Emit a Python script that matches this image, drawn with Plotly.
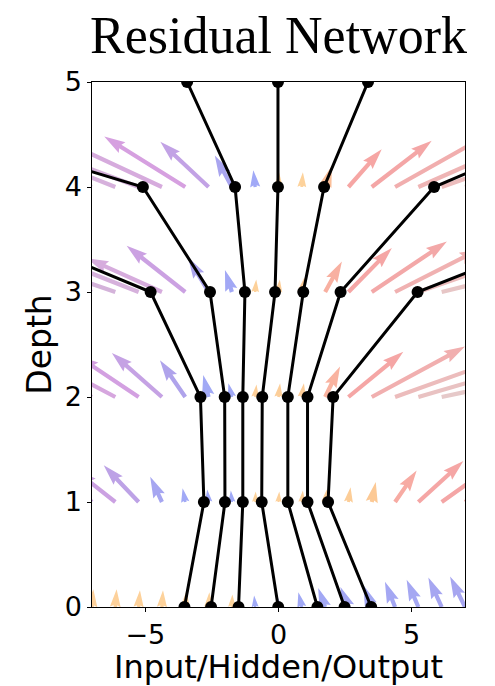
import math
import plotly.graph_objects as go

# ---------------- data ----------------
depth_levels = [0, 1, 2, 3, 4, 5]
traj_1 = [-3.53, -2.80, -2.93, -4.80, -14.3, None]
traj_2 = [-2.53, -2.01, -2.02, -2.57, -5.09, -18.2]
traj_3 = [-1.50, -1.34, -1.34, -1.26, -1.63, -3.43]
traj_4 = [-0.01, -0.63, -0.61, -0.13, -0.02, -0.02]
traj_5 = [1.46, 0.35, 0.35, 0.93, 1.71, 3.36]
traj_6 = [2.48, 1.09, 1.09, 2.33, 5.84, 15.2]
traj_7 = [3.48, 1.86, 2.05, 5.22, 15.2, None]

grid_x = [-7.0, -6.125, -5.25, -4.375, -3.5, -2.625, -1.75, -0.875, 0.0,
          0.875, 1.75, 2.625, 3.5, 4.375, 5.25, 6.125, 7.0]
arrow_depths = [0, 1, 2, 3, 4]

# horizontal / vertical components of each arrow, one list per depth
arrow_u_d0 = [0.05, 0.05, 0.05, 0.04, 0.04, 0.03, 0.02, -0.04, -0.06,
              -0.13, -0.26, -0.30, -0.32, -0.38, -0.44, -0.50, -0.56]
arrow_v_d0 = [0.17, 0.17, 0.16, 0.16, 0.15, 0.14, 0.12, 0.11, 0.11,
              0.14, 0.18, 0.19, 0.21, 0.24, 0.26, 0.28, 0.29]
arrow_u_d1 = [-1.8, -1.5, -1.31, -0.44, -0.10, -0.05, -0.04, 0.02, 0.03,
              0.04, 0.06, 0.08, 0.15, 0.81, 1.69, 2.2, 2.5]
arrow_v_d1 = [0.36, 0.30, 0.35, 0.24, 0.13, 0.12, 0.11, 0.10, 0.10,
              0.11, 0.12, 0.14, 0.19, 0.30, 0.39, 0.40, 0.42]
arrow_u_d2 = [-2.8, -2.6, -2.3, -1.88, -0.95, -0.20, -0.13, 0.05, 0.06,
              0.08, 0.56, 2.06, 3.5, 4.5, 5.0, 5.5, 6.0]
arrow_v_d2 = [0.32, 0.35, 0.39, 0.42, 0.35, 0.21, 0.13, 0.12, 0.13,
              0.13, 0.29, 0.43, 0.48, 0.41, 0.37, 0.30, 0.25]
arrow_u_d3 = [-3.5, -3.3, -3.0, -2.8, -2.2, -0.77, -0.26, 0.04, 0.05,
              0.10, 0.63, 1.63, 2.82, 3.2, 3.6, 4.0, 4.5]
arrow_v_d3 = [0.30, 0.29, 0.30, 0.32, 0.44, 0.33, 0.21, 0.12, 0.12,
              0.14, 0.29, 0.42, 0.48, 0.41, 0.32, 0.25, 0.20]
arrow_u_d4 = [-5.0, -4.5, -4.2, -3.8, -3.04, -1.81, -0.64, -0.07, 0.02,
              0.04, 0.25, 1.25, 2.25, 3.5, 4.0, 4.5, 5.0]
arrow_v_d4 = [0.35, 0.45, 0.40, 0.45, 0.48, 0.43, 0.30, 0.16, 0.14,
              0.14, 0.20, 0.36, 0.44, 0.50, 0.45, 0.40, 0.35]

x_ticks = [-5, 0, 5]
y_ticks = [0, 1, 2, 3, 4, 5]

# ---------------- layout geometry ----------------
# the page body adds an 8px offset, so the figure is 8px smaller
W, H = 487, 678
ML, MR, MT, MB = 84, 30, 74, 79
XR = [-7, 7]
YR = [0, 5]
sx = (W - ML - MR) / (XR[1] - XR[0])
sy = (H - MT - MB) / (YR[1] - YR[0])

# colour by screen angle from vertical (negative = pointing left)
angle_stops = [-80, -68, -58, -48, -36, -20, -0.5, 0.5, 12, 25, 40, 55, 68, 80]
angle_cols = [(205, 190, 210), (214, 176, 220), (214, 160, 224), (196, 162, 228),
              (176, 162, 234), (162, 168, 244), (160, 170, 248), (253, 214, 158),
              (252, 200, 148), (249, 180, 160), (246, 166, 164), (244, 166, 166),
              (238, 184, 184), (228, 205, 205)]


def angle_colour(a):
    if a <= angle_stops[0]:
        c = angle_cols[0]
    elif a >= angle_stops[-1]:
        c = angle_cols[-1]
    else:
        for k in range(len(angle_stops) - 1):
            a0, a1 = angle_stops[k], angle_stops[k + 1]
            if a0 <= a <= a1:
                f = (a - a0) / (a1 - a0)
                c0, c1 = angle_cols[k], angle_cols[k + 1]
                c = tuple(c0[j] + f * (c1[j] - c0[j]) for j in range(3))
                break
    return "rgb(%d,%d,%d)" % tuple(int(round(v)) for v in c)


def arrow_polygon(x0, y0, u, v, w=4.2):
    dx, dy = u * sx, v * sy
    L = math.hypot(dx, dy)
    ex, ey = dx / L, dy / L
    nx, ny = -ey, ex
    hl, hw, hal = 5 * w, 3 * w, 4.5 * w
    if L < hl:
        s = L / hl
        w, hl, hw, hal = w * s, hl * s, hw * s, hal * s
    pts = [(0, -w / 2), (L - hal, -w / 2), (L - hl, -hw / 2), (L, 0),
           (L - hl, hw / 2), (L - hal, w / 2), (0, w / 2), (0, -w / 2)]
    xs = [x0 + (a * ex + b * nx) / sx for a, b in pts]
    ys = [y0 + (a * ey + b * ny) / sy for a, b in pts]
    ang = math.degrees(math.atan2(dx, dy))
    return xs, ys, angle_colour(ang)


fig = go.Figure()

arrow_u = [arrow_u_d0, arrow_u_d1, arrow_u_d2, arrow_u_d3, arrow_u_d4]
arrow_v = [arrow_v_d0, arrow_v_d1, arrow_v_d2, arrow_v_d3, arrow_v_d4]
for d, us, vs in zip(arrow_depths, arrow_u, arrow_v):
    for x0, u, v in zip(grid_x, us, vs):
        xs, ys, col = arrow_polygon(x0, d, u, v)
        fig.add_trace(go.Scatter(x=xs, y=ys, mode="lines", fill="toself",
                                 fillcolor=col, line=dict(width=0, color=col),
                                 hoverinfo="skip", showlegend=False))

for tr in [traj_1, traj_2, traj_3, traj_4, traj_5, traj_6, traj_7]:
    fig.add_trace(go.Scatter(x=tr, y=depth_levels, mode="lines+markers",
                             line=dict(color="black", width=3),
                             marker=dict(color="black", size=12),
                             connectgaps=False, showlegend=False))

axis_common = dict(showgrid=False, zeroline=False, showline=True, mirror=True,
                   linecolor="black", linewidth=1.3, ticks="outside", ticklen=3.5,
                   tickwidth=1.3, tickcolor="black", automargin=False,
                   tickfont=dict(family="DejaVu Sans", size=27, color="black"))

fig.update_layout(
    width=W, height=H,
    margin=dict(l=ML, r=MR, t=MT, b=MB, autoexpand=False),
    paper_bgcolor="white", plot_bgcolor="white",
    title=dict(text="Residual Network", x=0.5 + (ML - MR) / (2 * W),
               xanchor="center", xref="container",
               y=1 - 27 / H, yanchor="middle", yref="container",
               font=dict(family="Liberation Serif", size=52, color="black")),
    xaxis=dict(range=XR, tickvals=x_ticks,
               title=dict(text="Input/Hidden/Output", standoff=13,
                          font=dict(family="DejaVu Sans", size=32, color="black")),
               **axis_common),
    yaxis=dict(range=YR, tickvals=y_ticks,
               title=dict(text="Depth", standoff=3,
                          font=dict(family="DejaVu Sans", size=33, color="black")),
               **axis_common),
)

fig.write_html("out.html")
